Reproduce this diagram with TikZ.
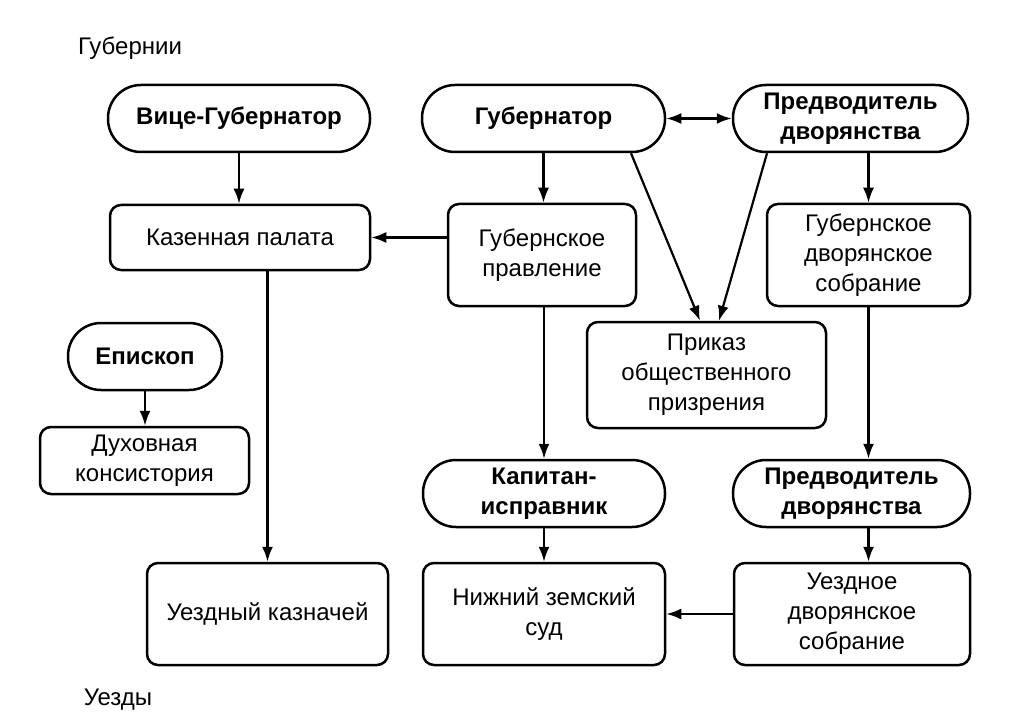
\documentclass[tikz,border=0pt]{standalone}
\usepackage{fontspec}
\setmainfont{Liberation Sans}
\usetikzlibrary{arrows.meta}
\begin{document}
\begin{tikzpicture}[x=1pt,y=-1pt,
  every node/.style={font=\fontsize{24}{30}\selectfont, align=center, inner sep=0pt},
  base/.style={draw, line width=2.5pt, rectangle},
  pill/.style={base, rounded corners=33pt, font=\fontsize{24}{30}\selectfont\bfseries},
  box/.style={base, rounded corners=11pt},
  arr/.style={line width=2.2pt, -{Latex[length=15pt,width=11pt]}},
  darr/.style={line width=2.2pt, {Latex[length=15pt,width=11pt]}-{Latex[length=15pt,width=11pt]}}
]
\useasboundingbox (0,0) rectangle (1024,727);
\node (lg) at (130,48) {Губернии};
\node (lu) at (118,700) {Уезды};

\node[pill, minimum width=262pt, minimum height=67pt] (vice) at (239,118.5) {Вице-Губернатор};
\node[pill, minimum width=243pt, minimum height=67pt] (gub) at (543.5,118.5) {Губернатор};
\node[pill, minimum width=235pt, minimum height=67pt] (pred1) at (850.5,118.5) {Предводитель\\дворянства};
\node[box, minimum width=260pt, minimum height=65pt] (kaz) at (240,237.5) {Казенная палата};
\node[box, minimum width=188pt, minimum height=102pt] (gpr) at (542,255) {Губернское\\правление};
\node[box, minimum width=203pt, minimum height=102pt] (gds) at (868.5,255) {Губернское\\дворянское\\собрание};
\node[box, minimum width=239pt, minimum height=106pt] (prik) at (706.5,375) {Приказ\\общественного\\призрения};
\node[pill, minimum width=154pt, minimum height=67pt] (episk) at (145,356.5) {Епископ};
\node[box, minimum width=209pt, minimum height=67pt] (dux) at (144.5,460.5) {Духовная\\консистория};
\node[pill, minimum width=242pt, minimum height=67pt] (kap) at (544,493.5) {Капитан-\\исправник};
\node[pill, minimum width=237pt, minimum height=67pt] (pred2) at (851.5,493.5) {Предводитель\\дворянства};
\node[box, minimum width=241pt, minimum height=102pt] (kazn) at (267.5,614) {Уездный казначей};
\node[box, minimum width=242pt, minimum height=102pt] (nzs) at (544,614) {Нижний земский\\суд};
\node[box, minimum width=236pt, minimum height=102pt] (uds) at (852,614) {Уездное\\дворянское\\собрание};

\draw[arr] (vice.south) -- (vice.south |- kaz.north);
\draw[arr] (gub.south) -- (gub.south |- gpr.north);
\draw[arr] (gpr.west |- kaz.east) -- (kaz.east);
\draw[darr] (gub.east) -- (pred1.west);
\draw[arr] ([xshift=87.5pt]gub.south) -- ([xshift=-6.5pt]prik.north);
\draw[arr] ([xshift=-83.5pt]pred1.south) -- ([xshift=12.5pt]prik.north);
\draw[arr] (pred1.south -| gds.north) -- (gds.north);
\draw[arr] (kaz.south -| kazn.north) -- (kazn.north);
\draw[arr] (gpr.south -| kap.north) -- (kap.north);
\draw[arr] (gds.south) -- (gds.south |- pred2.north);
\draw[arr] (episk.south) -- (episk.south |- dux.north);
\draw[arr] (kap.south) -- (kap.south |- nzs.north);
\draw[arr] (pred2.south -| gds.south) -- (uds.north -| gds.south);
\draw[arr] (uds.west) -- (nzs.east);
\end{tikzpicture}
\end{document}
